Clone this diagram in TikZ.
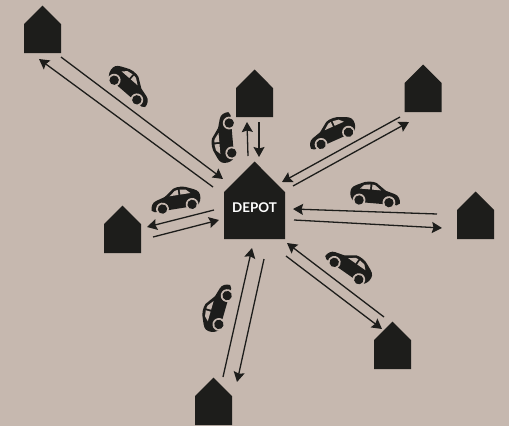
\documentclass[tikz,border=0pt]{standalone}
\usepackage{fontspec}
\setsansfont{Lato}
\usepackage{tikz}
\usetikzlibrary{arrows.meta}
\usetikzlibrary{shapes.symbols}
\definecolor{sand}{RGB}{198,184,175}
\definecolor{ink}{RGB}{29,29,27}
\tikzset{
  house/.style={signal, signal to=north, signal pointer angle=90, fill=ink, inner sep=0pt, outer sep=0pt, anchor=south, minimum width=37pt, minimum height=29pt},
  depot/.style={house, minimum width=61pt, minimum height=47pt},
  depotname/.style={text=white, font=\sffamily\bfseries\fontsize{13.4}{13.4}\selectfont},
  trip/.style={-{Stealth[length=10pt,width=11pt,inset=1.5pt]}, draw=ink, line width=1.3pt},
  pics/car/.style={code={
    \fill[ink] (-22,0) .. controls (-24.5,-3) and (-25,-8) .. (-23.5,-11)
      .. controls (-22,-14) and (-17,-15.5) .. (-14,-17)
      .. controls (-10,-19.5) and (-3,-20) .. (1,-18.5) -- (11,-11.5) -- (20,-9)
      .. controls (24,-8) and (26,-4) .. (26,0) -- (23,2) -- (-20,2) -- cycle;
    \fill[sand] (-15,-11.5) -- (-11,-15.5) -- (-5,-16.5) -- (-5,-11.5) -- cycle;
    \fill[sand] (-3,-16.5) -- (0,-16) -- (6,-11.5) -- (-3,-11.5) -- cycle;
    \fill[sand] (-15,0) circle (6.4) (15,0) circle (6.4);
    \fill[ink] (-15,0) circle (4.7) (15,0) circle (4.7);
  }}
}
\begin{document}
\begin{tikzpicture}[x=1pt,y=-1pt]
  \fill[sand] (0,0) rectangle (509,426);
  \useasboundingbox (0,0) rectangle (509,426);
  % houses
  \node[house] (h1) at (42.5,53) {};
  \node[house] (h2) at (254.5,117) {};
  \node[house] (h3) at (423,112) {};
  \node[house] (h4) at (475.5,239) {};
  \node[house] (h5) at (392.5,369) {};
  \node[house] (h6) at (213.5,425) {};
  \node[house] (h7) at (122.5,253) {};
  \node[depot] (hub) at (254.5,239) {};
  \node[depotname] (hubname) at (254.5,207.5) {DEPOT};
  % arrow ends
  \coordinate (a1) at (61,57);   \coordinate (b1) at (223,179);
  \coordinate (a2) at (213,187); \coordinate (b2) at (39,59);
  \coordinate (a3) at (248,156); \coordinate (b3) at (247,122);
  \coordinate (a4) at (259,122); \coordinate (b4) at (259,157);
  \coordinate (a5) at (400,117); \coordinate (b5) at (282,182);
  \coordinate (a6) at (293,186); \coordinate (b6) at (409,122);
  \coordinate (a7) at (437,214); \coordinate (b7) at (293,209);
  \coordinate (a8) at (294,220); \coordinate (b8) at (442,228);
  \coordinate (a9) at (384,317); \coordinate (b9) at (287,243);
  \coordinate (a10) at (286,256); \coordinate (b10) at (382,329);
  \coordinate (a11) at (223,377); \coordinate (b11) at (252,248);
  \coordinate (a12) at (264,259); \coordinate (b12) at (237,382);
  \coordinate (a13) at (214,210); \coordinate (b13) at (147,227);
  \coordinate (a14) at (153,237); \coordinate (b14) at (219,220);
  \path
  (a1) edge[trip] (b1)
  (a2) edge[trip] (b2)
  (a3) edge[trip] (b3)
  (a4) edge[trip] (b4)
  (a5) edge[trip] (b5)
  (a6) edge[trip] (b6)
  (a7) edge[trip] (b7)
  (a8) edge[trip] (b8)
  (a9) edge[trip] (b9)
  (a10) edge[trip] (b10)
  (a11) edge[trip] (b11)
  (a12) edge[trip] (b12)
  (a13) edge[trip] (b13)
  (a14) edge[trip] (b14)
  ;
  % cars
  \pic[rotate=-41] at (125.5,90) {car};
  \pic[rotate=95] at (230.5,138) {car};
  \pic[rotate=9,xscale=-1] at (177.3,206.7) {car};
  \pic[rotate=24,xscale=-1] at (334.8,138.3) {car};
  \pic[rotate=-5] at (374,201.3) {car};
  \pic[rotate=-35,xscale=-1] at (346.5,271) {car};
  \pic[rotate=74] at (223,310) {car};
\end{tikzpicture}
\end{document}
